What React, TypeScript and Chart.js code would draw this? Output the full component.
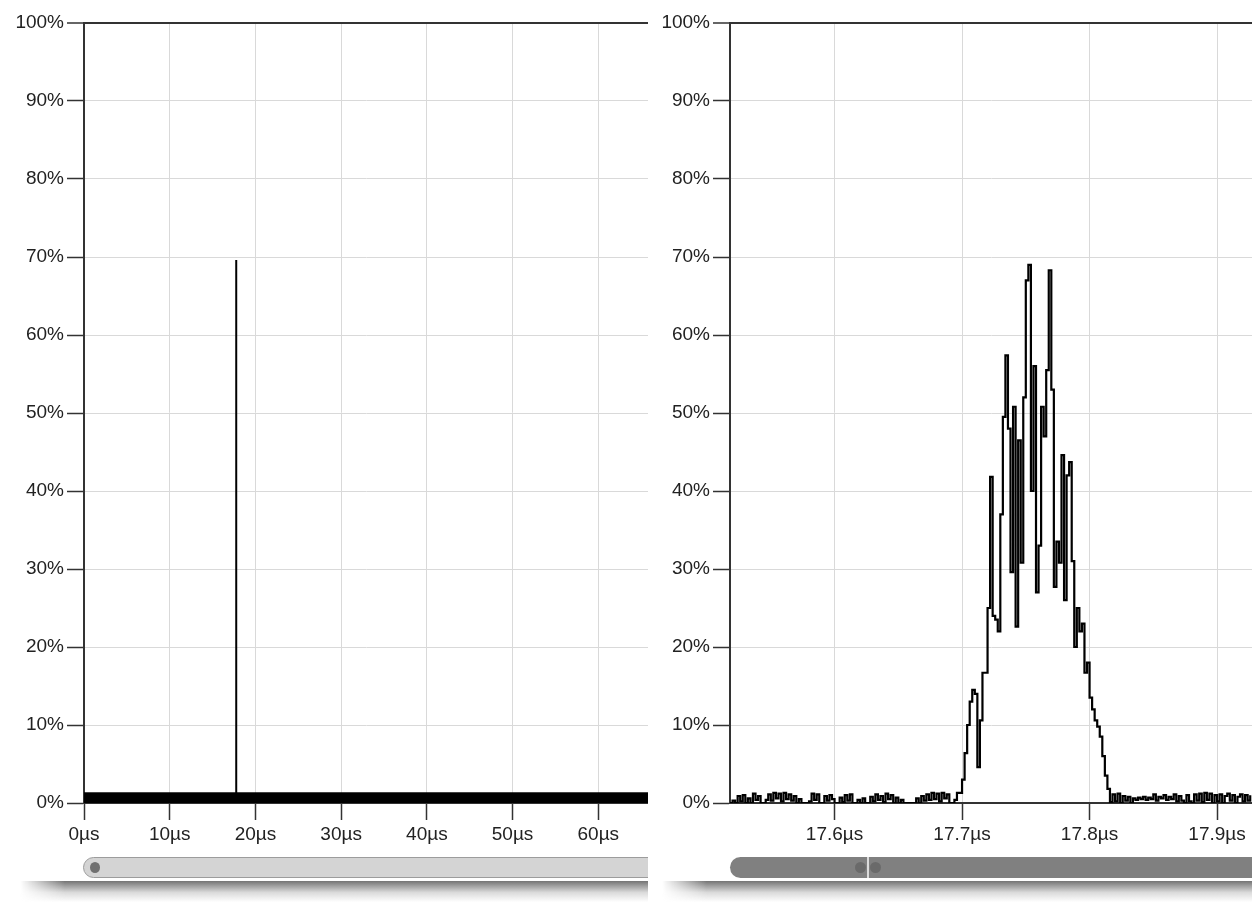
import React, { useEffect, useRef } from "react";
import { Chart, registerables } from "chart.js";

Chart.register(...registerables);

// ---------- data ----------
const Y_TICKS = [0, 10, 20, 30, 40, 50, 60, 70, 80, 90, 100];
const LEFT_X_TICKS = [0, 10, 20, 30, 40, 50, 60];
const RIGHT_X_TICKS = [17.6, 17.7, 17.8, 17.9];
const LEFT_X_MIN = 0;
const LEFT_X_MAX = 65.8;
const RIGHT_X_MIN = 17.518;
const RIGHT_X_MAX = 17.9274;

// overview (left): noise floor band and the single pulse
const NOISE_FLOOR = 1.3;
const PEAK_TIME_US = 17.76;
const PEAK_VALUE = 69.6;

// zoomed record (right): samples every 2 ns starting at 17.518 µs
const SAMPLE_START_US = 17.518;
const SAMPLE_STEP_US = 0.002;
const NOISE_BEFORE = [
  0.0, 0.3, 0.0, 0.9, 0.2, 1.0, 0.0, 0.6, 0.0, 1.2,
  0.4, 0.9, 0.0, 0.0, 0.4, 1.1, 0.3, 1.3, 0.6, 1.2,
  0.2, 1.3, 0.5, 1.1, 0.3, 0.9, 0.0, 0.5, 0.0, 0.0,
  0.0, 0.2, 1.2, 0.4, 1.1, 0.0, 0.0, 0.9, 0.3, 1.0,
  0.5, 0.0, 0.0, 0.7, 0.1, 1.0, 0.3, 1.1, 0.0, 0.0,
  0.4, 0.0, 0.6, 0.0, 0.0, 0.8, 0.2, 1.1, 0.4, 0.9,
  0.1, 1.2, 0.5, 1.0, 0.0, 0.7, 0.0, 0.4, 0.0, 0.0,
  0.0, 0.0, 0.0, 0.6, 0.0, 0.9, 0.3, 1.1, 0.4, 1.3,
  0.5, 1.2, 0.2, 1.3, 0.6, 1.1, 0.0, 0.0, 0.4,
];
const PULSE = [
  1.3, 1.3, 3.0, 6.4, 10.0, 13.0, 14.5, 14.0, 4.6, 10.6,
  16.7, 16.7, 25.0, 41.8, 24.0, 23.5, 22.0, 37.0, 49.5, 57.4,
  48.0, 29.6, 50.8, 22.6, 46.5, 30.8, 52.0, 67.0, 69.0, 40.0,
  56.0, 27.0, 33.0, 50.8, 47.0, 55.5, 68.3, 53.0, 27.7, 33.5,
  30.8, 44.6, 26.0, 42.0, 43.7, 31.0, 20.0, 25.0, 22.0, 23.0,
  16.7, 18.0, 13.5, 12.0, 10.6, 9.8, 8.5, 6.0, 3.5, 1.8,
  0.1,
];
const NOISE_AFTER = [
  1.1, 0.2, 1.2, 0.0, 0.9, 0.3, 0.8, 0.0, 0.6, 0.4,
  0.7, 0.5, 0.8, 0.4, 0.7, 0.5, 1.1, 0.3, 0.8, 0.6,
  1.0, 0.4, 0.8, 0.5, 1.1, 0.2, 0.9, 0.3, 0.0, 1.0,
  0.2, 0.0, 1.1, 0.3, 1.2, 0.1, 1.3, 0.4, 1.2, 0.0,
  1.0, 0.2, 1.1, 0.0, 0.9, 1.2, 0.3, 1.0, 0.0, 0.8,
  1.1, 0.2, 1.0, 0.3, 1.0,
];

// ---------- styling ----------
const FONT = { family: "'Liberation Sans', Arial, sans-serif", size: 19 };
const TEXT = "#222";
const AXIS = "#333";
const GRID = "#d9d9d9";
const CANVAS_H = 904;
const PLOT_TOP = 23;
const PLOT_BOTTOM = 803;

function makeOptions(
  xMin: number,
  xMax: number,
  xTicks: number[],
  yWidth: number,
  fmt: (v: number) => string
): any {
  return {
    animation: false,
    responsive: false,
    maintainAspectRatio: false,
    events: [],
    layout: { padding: { top: PLOT_TOP, right: 0, left: 0, bottom: 0 } },
    plugins: { legend: { display: false }, tooltip: { enabled: false } },
    scales: {
      x: {
        type: "linear",
        min: xMin,
        max: xMax,
        afterBuildTicks: (s: any) => {
          s.ticks = xTicks.map((v) => ({ value: v }));
        },
        afterFit: (s: any) => {
          s.height = CANVAS_H - PLOT_BOTTOM;
        },
        grid: { color: GRID, lineWidth: 1, tickColor: AXIS, tickLength: 17, tickWidth: 1.5 },
        border: { display: true, color: AXIS, width: 2 },
        ticks: {
          callback: (v: number) => fmt(v),
          font: FONT,
          color: TEXT,
          padding: 3,
          maxRotation: 0,
          autoSkip: false,
        },
      },
      y: {
        type: "linear",
        min: 0,
        max: 100,
        afterBuildTicks: (s: any) => {
          s.ticks = Y_TICKS.map((v) => ({ value: v }));
        },
        afterFit: (s: any) => {
          s.width = yWidth;
        },
        grid: {
          color: (c: any) => (c.tick && c.tick.value === 100 ? AXIS : GRID),
          lineWidth: (c: any) => (c.tick && c.tick.value === 100 ? 2 : 1),
          tickColor: AXIS,
          tickLength: 17,
          tickWidth: 1.5,
        },
        border: { display: true, color: AXIS, width: 2 },
        ticks: {
          callback: (v: number) => `${v}%`,
          font: FONT,
          color: TEXT,
          padding: 3,
        },
      },
    },
  };
}

function LeftChart() {
  const ref = useRef<HTMLCanvasElement | null>(null);
  useEffect(() => {
    if (!ref.current) return;
    const chart = new Chart(ref.current, {
      type: "line",
      data: {
        datasets: [
          {
            data: [
              { x: LEFT_X_MIN, y: NOISE_FLOOR },
              { x: LEFT_X_MAX, y: NOISE_FLOOR },
            ],
            fill: "origin",
            backgroundColor: "#000",
            borderColor: "#000",
            borderWidth: 1,
            pointRadius: 0,
          },
          {
            data: [
              { x: PEAK_TIME_US, y: 0 },
              { x: PEAK_TIME_US, y: PEAK_VALUE },
            ],
            borderColor: "#000",
            borderWidth: 2,
            pointRadius: 0,
            fill: false,
          },
        ],
      },
      options: makeOptions(LEFT_X_MIN, LEFT_X_MAX, LEFT_X_TICKS, 84, (v) => `${v}µs`),
    } as any);
    return () => chart.destroy();
  }, []);
  return <canvas ref={ref} width={648} height={CANVAS_H} style={{ width: 648, height: CANVAS_H, display: "block" }} />;
}

function RightChart() {
  const ref = useRef<HTMLCanvasElement | null>(null);
  useEffect(() => {
    if (!ref.current) return;
    const values = [...NOISE_BEFORE, ...PULSE, ...NOISE_AFTER];
    const points = values.map((y, i) => ({ x: SAMPLE_START_US + i * SAMPLE_STEP_US, y }));
    const chart = new Chart(ref.current, {
      type: "line",
      data: {
        datasets: [
          {
            data: points,
            borderColor: "#000",
            borderWidth: 2.2,
            pointRadius: 0,
            stepped: true,
            fill: false,
          },
        ],
      },
      options: makeOptions(RIGHT_X_MIN, RIGHT_X_MAX, RIGHT_X_TICKS, 80, (v) => `${v.toFixed(1)}µs`),
    } as any);
    return () => chart.destroy();
  }, []);
  return <canvas ref={ref} width={602} height={CANVAS_H} style={{ width: 602, height: CANVAS_H, display: "block" }} />;
}

const shadowStyle = (left: number, width: number): React.CSSProperties => ({
  position: "absolute",
  left,
  top: 881,
  width,
  height: 21,
  background: "linear-gradient(to bottom, rgba(70,70,70,0.75), rgba(150,150,150,0.35) 55%, rgba(255,255,255,0))",
  WebkitMaskImage: "linear-gradient(to right, transparent 0px, black 45px)",
  maskImage: "linear-gradient(to right, transparent 0px, black 45px)",
});

export default function App() {
  return (
    <div
      style={{
        position: "fixed",
        left: 0,
        top: 0,
        width: 1252,
        height: 904,
        background: "#fff",
        overflow: "hidden",
      }}
    >
      <div style={{ position: "absolute", left: 0, top: 0, width: 648, height: 904, overflow: "hidden" }}>
        <LeftChart />
        <div
          style={{
            position: "absolute",
            left: 83,
            top: 857,
            width: 620,
            height: 21,
            borderRadius: 11,
            background: "#d4d4d4",
            border: "1px solid #9c9c9c",
            boxSizing: "border-box",
          }}
        />
        <div
          style={{
            position: "absolute",
            left: 90,
            top: 862,
            width: 10,
            height: 11,
            borderRadius: "50%",
            background: "#707070",
          }}
        />
        <div style={shadowStyle(20, 660)} />
      </div>
      <div style={{ position: "absolute", left: 650, top: 0, width: 602, height: 904, overflow: "hidden" }}>
        <RightChart />
        <div
          style={{
            position: "absolute",
            left: 80,
            top: 857,
            width: 620,
            height: 21,
            borderRadius: 11,
            background: "#808080",
          }}
        />
        <div
          style={{
            position: "absolute",
            left: 205,
            top: 862,
            width: 11,
            height: 11,
            borderRadius: "50%",
            background: "#6a6a6a",
          }}
        />
        <div
          style={{
            position: "absolute",
            left: 220,
            top: 862,
            width: 11,
            height: 11,
            borderRadius: "50%",
            background: "#6a6a6a",
          }}
        />
        <div
          style={{
            position: "absolute",
            left: 217,
            top: 857,
            width: 2,
            height: 21,
            background: "#dcdcdc",
          }}
        />
        <div style={shadowStyle(12, 600)} />
      </div>
    </div>
  );
}
